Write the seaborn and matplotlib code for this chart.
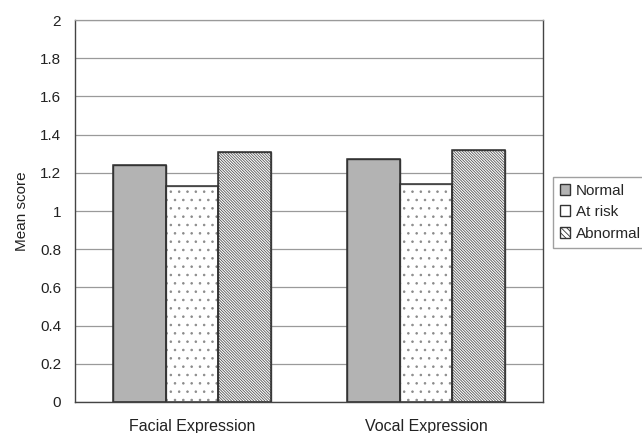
import matplotlib
matplotlib.use("Agg")
import matplotlib.pyplot as plt
from matplotlib.patches import Patch, Rectangle
import seaborn as sns
import pandas as pd

categories = ["Facial Expression", "Vocal Expression"]
groups = ["Normal", "At risk", "Abnormal"]
normal = [1.24, 1.27]
at_risk = [1.13, 1.14]
abnormal = [1.31, 1.32]
y_ticks = [0, 0.2, 0.4, 0.6, 0.8, 1, 1.2, 1.4, 1.6, 1.8, 2]
y_tick_labels = ["0", "0.2", "0.4", "0.6", "0.8", "1", "1.2", "1.4", "1.6", "1.8", "2"]

df = pd.DataFrame({
    "category": categories * 3,
    "group": [g for g in groups for _ in categories],
    "score": normal + at_risk + abnormal,
})

sns.set_style("white")
plt.rcParams["font.family"] = ["Liberation Sans", "DejaVu Sans"]
plt.rcParams["hatch.linewidth"] = 0.6

fig = plt.figure(figsize=(6.42, 4.33), dpi=100)
ax = fig.add_axes([0.1168, 0.0716, 0.729, 0.8822])

fills = {"Normal": "#b3b3b3", "At risk": "white", "Abnormal": "white"}
hatches = {"Normal": "", "At risk": "..", "Abnormal": "\\" * 12}
hatch_colors = {"Normal": "#333333", "At risk": "#8a8a8a", "Abnormal": "#555555"}

sns.barplot(data=df, x="category", y="score", hue="group", order=categories,
            hue_order=groups, palette=fills, width=0.675, gap=0,
            saturation=1, edgecolor="#333333", linewidth=1.0,
            legend=False, ax=ax)

# hatch colour follows the edge colour, so draw a dark outline on top of each bar
for container, g in zip(ax.containers, groups):
    for bar in container:
        bar.set_hatch(hatches[g])
        bar.set_edgecolor(hatch_colors[g])
        ax.add_patch(Rectangle(bar.get_xy(), bar.get_width(), bar.get_height(),
                               fill=False, edgecolor="#333333", linewidth=1.1,
                               zorder=bar.get_zorder() + 0.1))

ax.set_ylim(0, 2)
ax.set_xlim(-0.5, 1.5)
ax.set_yticks(y_ticks)
ax.set_yticklabels(y_tick_labels, fontsize=11, color="#222222")
ax.yaxis.grid(True, color="#9a9a9a", linewidth=0.9)
ax.set_axisbelow(True)
ax.tick_params(axis="y", length=0, pad=10)
ax.tick_params(axis="x", length=0, pad=12, labelsize=11.5, labelcolor="#222222")
ax.set_xticks([0, 1])
ax.set_xticks([0.5], minor=True)
ax.tick_params(axis="x", which="minor", direction="in", length=4, color="#777777")
ax.set_xlabel("")
ax.set_ylabel("Mean score", fontsize=11, color="#222222", labelpad=8)

for side in ["left", "right", "bottom"]:
    ax.spines[side].set_visible(True)
    ax.spines[side].set_color("#444444")
    ax.spines[side].set_linewidth(1.0)
ax.spines["top"].set_visible(True)
ax.spines["top"].set_color("#9a9a9a")
ax.spines["top"].set_linewidth(0.9)

handles = [Patch(facecolor=fills[g], edgecolor="#333333",
                 hatch={"Normal": "", "At risk": "", "Abnormal": "\\" * 6}[g], label=g)
           for g in groups]
fig.legend(handles=handles, loc="upper left", bbox_to_anchor=(0.861, 0.592),
           frameon=True, fancybox=False, edgecolor="#888888", fontsize=11,
           handlelength=0.7, handleheight=0.7, handletextpad=0.35,
           labelspacing=0.5, borderpad=0.45, borderaxespad=0)

fig.savefig("out.png", dpi=100)
